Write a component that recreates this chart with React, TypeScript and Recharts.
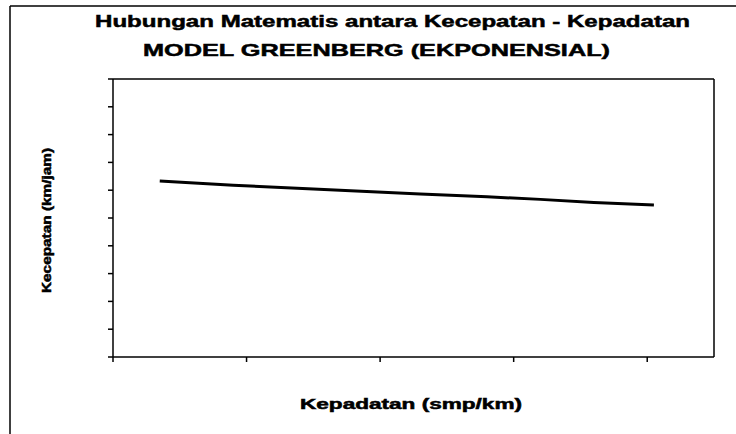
import { Line, LineChart, ReferenceLine, XAxis, YAxis } from "recharts";

// Greenberg model: speed vs density
const kepadatan = [7, 18, 30, 38, 46, 56, 64, 72, 81];
const kecepatan = [63.3, 61.8, 60.4, 59.5, 58.6, 57.6, 56.7, 55.6, 54.7];

const xTicks = [0, 20, 40, 60, 80];
const yTicks = [0, 10, 20, 30, 40, 50, 60, 70, 80, 90, 100];
const xMax = 90;
const yMax = 100;

const title1 = "Hubungan Matematis antara Kecepatan - Kepadatan";
const title2 = "MODEL GREENBERG (EKPONENSIAL)";
const xLabel = "Kepadatan (smp/km)";
const yLabel = "Kecepatan (km/jam)";

const data = kepadatan.map((k, i) => ({ k, v: kecepatan[i] }));

const font = "'Liberation Sans', Arial, sans-serif";
const blank = () => "";

export default function App() {
  return (
    <div style={{ position: "absolute", left: 0, top: 0, width: 736, height: 434, background: "#fff" }}>
      <LineChart width={736} height={434} data={data} margin={{ top: 79, right: 22, bottom: 0, left: 0 }}>
        <XAxis
          dataKey="k"
          type="number"
          domain={[0, xMax]}
          ticks={xTicks}
          tickFormatter={blank}
          tickSize={5}
          height={77}
          axisLine={{ stroke: "#000", strokeWidth: 1.5 }}
          tickLine={{ stroke: "#000", strokeWidth: 1.5 }}
        />
        <YAxis
          type="number"
          domain={[0, yMax]}
          ticks={yTicks}
          tickFormatter={blank}
          tickSize={5}
          width={113}
          axisLine={{ stroke: "#000", strokeWidth: 1.5 }}
          tickLine={{ stroke: "#000", strokeWidth: 1.5 }}
        />
        {/* plot area frame: top and right edges */}
        <ReferenceLine y={yMax} stroke="#000" strokeWidth={1.5} />
        <ReferenceLine x={xMax} stroke="#000" strokeWidth={1.5} />
        <Line
          dataKey="v"
          type="linear"
          stroke="#000"
          strokeWidth={3}
          dot={false}
          isAnimationActive={false}
        />
      </LineChart>
      <svg
        width={736}
        height={434}
        style={{ position: "absolute", left: 0, top: 0, pointerEvents: "none" }}
      >
        <line x1={10} y1={6} x2={736} y2={6} stroke="#000" strokeWidth={1.5} />
        <line x1={10} y1={6} x2={10} y2={434} stroke="#000" strokeWidth={1.5} />
        <g fontFamily={font} fontWeight="bold" fill="#000" stroke="#000" strokeWidth={0.5}>
          <text x={95} y={27} fontSize={17} textLength={595} lengthAdjust="spacingAndGlyphs">
            {title1}
          </text>
          <text x={143} y={56} fontSize={17} textLength={467} lengthAdjust="spacingAndGlyphs">
            {title2}
          </text>
          <text x={300} y={409} fontSize={14} textLength={222} lengthAdjust="spacingAndGlyphs">
            {xLabel}
          </text>
          <text
            x={0}
            y={0}
            fontSize={12}
            textLength={145}
            lengthAdjust="spacingAndGlyphs"
            transform="translate(51 293) rotate(-90)"
          >
            {yLabel}
          </text>
        </g>
      </svg>
    </div>
  );
}
